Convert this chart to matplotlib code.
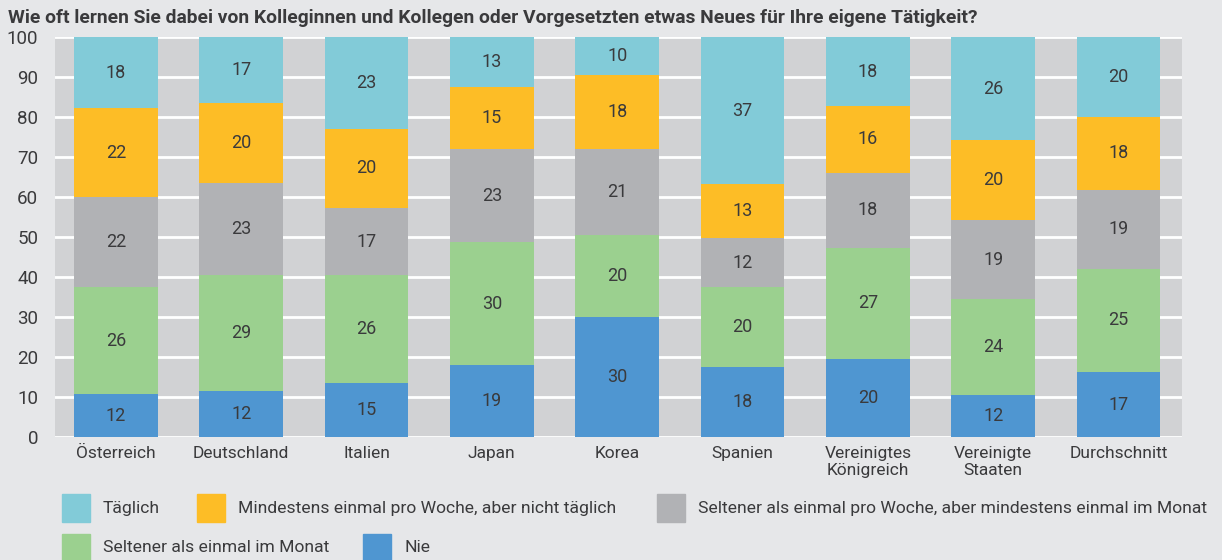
import matplotlib
matplotlib.use("Agg")
import matplotlib.pyplot as plt
import numpy as np
from matplotlib.patches import Rectangle

plt.rcParams["font.family"] = ["Roboto", "DejaVu Sans"]

FIG_BG, AX_BG, TXT = "#e6e7e9", "#d1d2d4", "#3a3a3c"

countries = ["Österreich", "Deutschland", "Italien", "Japan", "Korea", "Spanien",
             "Vereinigtes\nKönigreich", "Vereinigte\nStaaten", "Durchschnitt"]
series = ["Nie", "Seltener als einmal im Monat",
          "Seltener als einmal pro Woche, aber mindestens einmal im Monat",
          "Mindestens einmal pro Woche, aber nicht täglich", "Täglich"]
colors = ["#4f96d1", "#9bd08f", "#b1b2b5", "#fdbd26", "#82cbd8"]

# segment heights as drawn (bottom -> top)
nie = [10.8, 11.5, 13.6, 18.1, 30.0, 17.7, 19.6, 10.6, 16.4]
selten_monat = [26.8, 29.1, 26.9, 30.7, 20.7, 19.9, 27.8, 24.0, 25.8]
selten_woche = [22.4, 23.1, 16.8, 23.3, 21.4, 12.2, 18.7, 19.7, 19.7]
woechentlich = [22.4, 19.9, 19.9, 15.6, 18.4, 13.5, 16.8, 20.1, 18.3]
taeglich = [17.6, 16.4, 22.8, 12.3, 9.5, 36.7, 17.1, 25.6, 19.8]

# printed labels
lab_nie = [12, 12, 15, 19, 30, 18, 20, 12, 17]
lab_selten_monat = [26, 29, 26, 30, 20, 20, 27, 24, 25]
lab_selten_woche = [22, 23, 17, 23, 21, 12, 18, 19, 19]
lab_woechentlich = [22, 20, 20, 15, 18, 13, 16, 20, 18]
lab_taeglich = [18, 17, 23, 13, 10, 37, 18, 26, 20]

values = [nie, selten_monat, selten_woche, woechentlich, taeglich]
labels = [lab_nie, lab_selten_monat, lab_selten_woche, lab_woechentlich, lab_taeglich]

fig = plt.figure(figsize=(12.22, 5.6), dpi=100, facecolor=FIG_BG)
ax = fig.add_axes([0.0448, 0.219, 0.9222, 0.7144])
ax.set_facecolor(AX_BG)

x = np.arange(len(countries))
bottom = np.zeros(len(countries))
for vals, labs, col in zip(values, labels, colors):
    vals = np.array(vals)
    ax.bar(x, vals, 0.667, bottom=bottom, color=col, edgecolor="none", zorder=3)
    for xi, b, v, l in zip(x, bottom, vals, labs):
        ax.text(xi, b + v / 2, str(l), ha="center", va="center",
                fontsize=13, color=TXT, zorder=4)
    bottom += vals

ax.set_xlim(-0.487, 8.504)
ax.set_ylim(0, 100)
ax.set_yticks(range(0, 101, 10))
ax.yaxis.grid(True, color="white", linewidth=2)
ax.set_axisbelow(True)
ax.set_xticks(x)
ax.set_xticklabels(countries, linespacing=1.2)
ax.tick_params(axis="both", length=0, labelsize=12.5, labelcolor=TXT)
ax.tick_params(axis="y", labelsize=13.5, pad=12)
ax.tick_params(axis="x", pad=6)
for s in ax.spines.values():
    s.set_visible(False)

fig.text(8 / 1222, 1 - 18 / 560,
         "Wie oft lernen Sie dabei von Kolleginnen und Kollegen oder Vorgesetzten "
         "etwas Neues für Ihre eigene Tätigkeit?",
         fontsize=13.9, fontweight="bold", color=TXT, ha="left", va="center")

# legend (flow layout like reference)
leg_items = [(4, 62, 508), (3, 197, 508), (2, 657, 508), (1, 62, 548), (0, 363, 548)]
W, H = 1222, 560
for idx, px, py in leg_items:
    fig.patches.append(Rectangle((px / W, 1 - (py + 14) / H), 28 / W, 28 / H,
                                 transform=fig.transFigure, color=colors[idx]))
    fig.text((px + 41) / W, 1 - py / H, series[idx], fontsize=12.6, color=TXT,
             ha="left", va="center")

fig.savefig("out.png", dpi=100, facecolor=FIG_BG)
